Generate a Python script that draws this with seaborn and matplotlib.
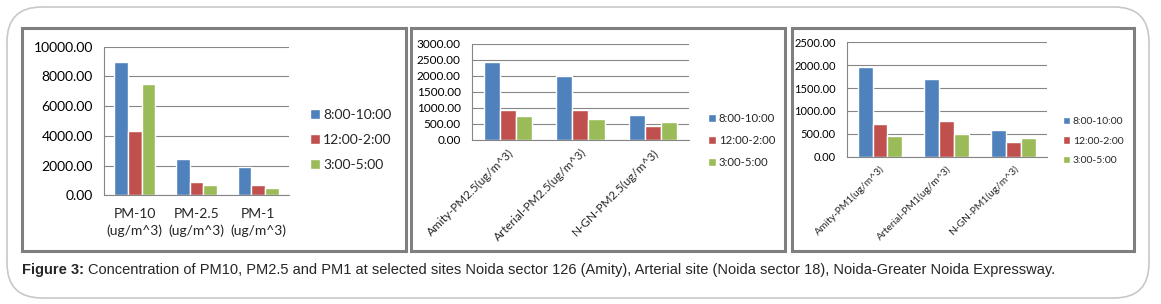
import pandas as pd
import matplotlib
matplotlib.use('Agg')
import matplotlib.pyplot as plt
import seaborn as sns
from matplotlib.patches import Rectangle, FancyBboxPatch
from matplotlib.ticker import StrMethodFormatter

# data
periods = ['8:00-10:00', '12:00-2:00', '3:00-5:00']
colors = ['#4F81BD', '#C0504D', '#9BBB59']

cats1 = ['PM-10\n(ug/m^3)', 'PM-2.5\n(ug/m^3)', 'PM-1\n(ug/m^3)']
morning1 = [8980, 2430, 1900]
noon1 = [4360, 900, 700]
evening1 = [7500, 700, 480]

cats2 = ['Amity-PM2.5(ug/m^3)', 'Arterial-PM2.5(ug/m^3)', 'N-GN-PM2.5(ug/m^3)']
morning2 = [2430, 1990, 770]
noon2 = [930, 950, 450]
evening2 = [740, 650, 560]

cats3 = ['Amity-PM1(ug/m^3)', 'Arterial-PM1(ug/m^3)', 'N-GN-PM1(ug/m^3)']
morning3 = [1950, 1690, 580]
noon3 = [710, 780, 330]
evening3 = [460, 500, 410]

caption_bold = 'Figure 3:'
caption_rest = ('Concentration of PM10, PM2.5 and PM1 at selected sites Noida sector 126 (Amity), '
                'Arterial site (Noida sector 18), Noida-Greater Noida Expressway.')

sns.set_style('white')
plt.rcParams['font.family'] = ['Lato', 'DejaVu Sans']

W, H = 1161, 304
fig = plt.figure(figsize=(W / 100, H / 100), dpi=100)


def px(x0, y0, x1, y1):
    # pixel box (top-left origin) -> figure fraction rect
    return [x0 / W, 1 - y1 / H, (x1 - x0) / W, (y1 - y0) / H]


def long_df(cats, m, n, e):
    rows = []
    for vals, p in zip([m, n, e], periods):
        for c, v in zip(cats, vals):
            rows.append({'site': c, 'period': p, 'value': v})
    return pd.DataFrame(rows)


# outer rounded frame
fig.add_artist(FancyBboxPatch((7 / W, 1 - 298 / H), 1142 / W, 291 / H,
                              boxstyle='round,pad=0,rounding_size=0.03',
                              transform=fig.transFigure, fill=False,
                              edgecolor='#c8c8c8', lw=1.2, mutation_aspect=W / H))

# panel borders
for x0, x1 in [(22, 406), (411, 785), (792, 1134)]:
    fig.add_artist(Rectangle((x0 / W, 1 - 251 / H), (x1 - x0) / W, (251 - 28) / H,
                             transform=fig.transFigure, fill=False,
                             edgecolor='#7f7f7f', lw=2.2))

panels = [
    dict(cats=cats1, data=(morning1, noon1, evening1), box=(104, 46.7, 289, 195.3),
         ymax=10000, step=2000, fs=10, xfs=10, rot=0, leg=(310, 140), lfs=10, lsp=0.95),
    dict(cats=cats2, data=(morning2, noon2, evening2), box=(471.7, 44, 689, 140),
         ymax=3000, step=500, fs=8.5, xfs=8.5, rot=45, leg=(708, 140.5), lfs=8.2, lsp=0.95),
    dict(cats=cats3, data=(morning3, noon3, evening3), box=(846.7, 42.3, 1046.7, 156.7),
         ymax=2500, step=500, fs=8, xfs=7.4, rot=45, leg=(1063, 141), lfs=7.5, lsp=1.0),
]

axes = []
for p in panels:
    ax = fig.add_axes(px(*p['box']))
    df = long_df(p['cats'], *p['data'])
    sns.barplot(data=df, x='site', y='value', hue='period', palette=colors,
                width=0.67, gap=0, saturation=1, ax=ax)
    handles, labels = ax.get_legend_handles_labels()
    ax.get_legend().remove()

    ax.set_xlim(-0.5, 2.5)
    ax.set_ylim(0, p['ymax'])
    ax.set_yticks(range(0, p['ymax'] + 1, p['step']))
    ax.yaxis.set_major_formatter(StrMethodFormatter('{x:.2f}'))
    ax.set_xlabel('')
    ax.set_ylabel('')
    ax.grid(axis='y', color='#868686', lw=0.8)
    ax.set_axisbelow(True)
    for s in ['top', 'right']:
        ax.spines[s].set_visible(False)
    for s in ['left', 'bottom']:
        ax.spines[s].set_color('#868686')
        ax.spines[s].set_linewidth(0.8)

    ax.tick_params(axis='y', length=4, width=0.8, color='#868686', pad=4,
                   labelsize=p['fs'], labelcolor='#000000')
    ax.set_xticks([-0.5, 0.5, 1.5, 2.5], minor=True)
    ax.tick_params(axis='x', which='minor', length=4, width=0.8, color='#868686')
    ax.tick_params(axis='x', which='major', length=0, labelsize=p['xfs'], pad=5)
    ax.set_xticks(range(3))
    if p['rot']:
        ax.set_xticklabels(p['cats'], rotation=45, ha='right', rotation_mode='anchor')
    else:
        ax.set_xticklabels(p['cats'], linespacing=1.45)
        ax.tick_params(axis='x', which='major', pad=9)

    lx, ly = p['leg']
    ax.legend(handles, labels, loc='center left', bbox_to_anchor=(lx / W, 1 - ly / H),
              bbox_transform=fig.transFigure, frameon=False, fontsize=p['lfs'],
              handlelength=0.7, handleheight=0.7, handletextpad=0.25,
              labelspacing=p['lsp'], borderpad=0, borderaxespad=0)
    axes.append(ax)

# caption
t1 = fig.text(22 / W, 1 - 270 / H, caption_bold, fontsize=10.5, fontweight='bold',
              family='Liberation Sans', va='center')
axes[0].annotate(caption_rest, xy=(1, 0.5), xycoords=t1, xytext=(3, 0),
                 textcoords='offset points', va='center', fontsize=10.5,
                 family='Liberation Sans', annotation_clip=False)

fig.savefig('out.png', dpi=100)
